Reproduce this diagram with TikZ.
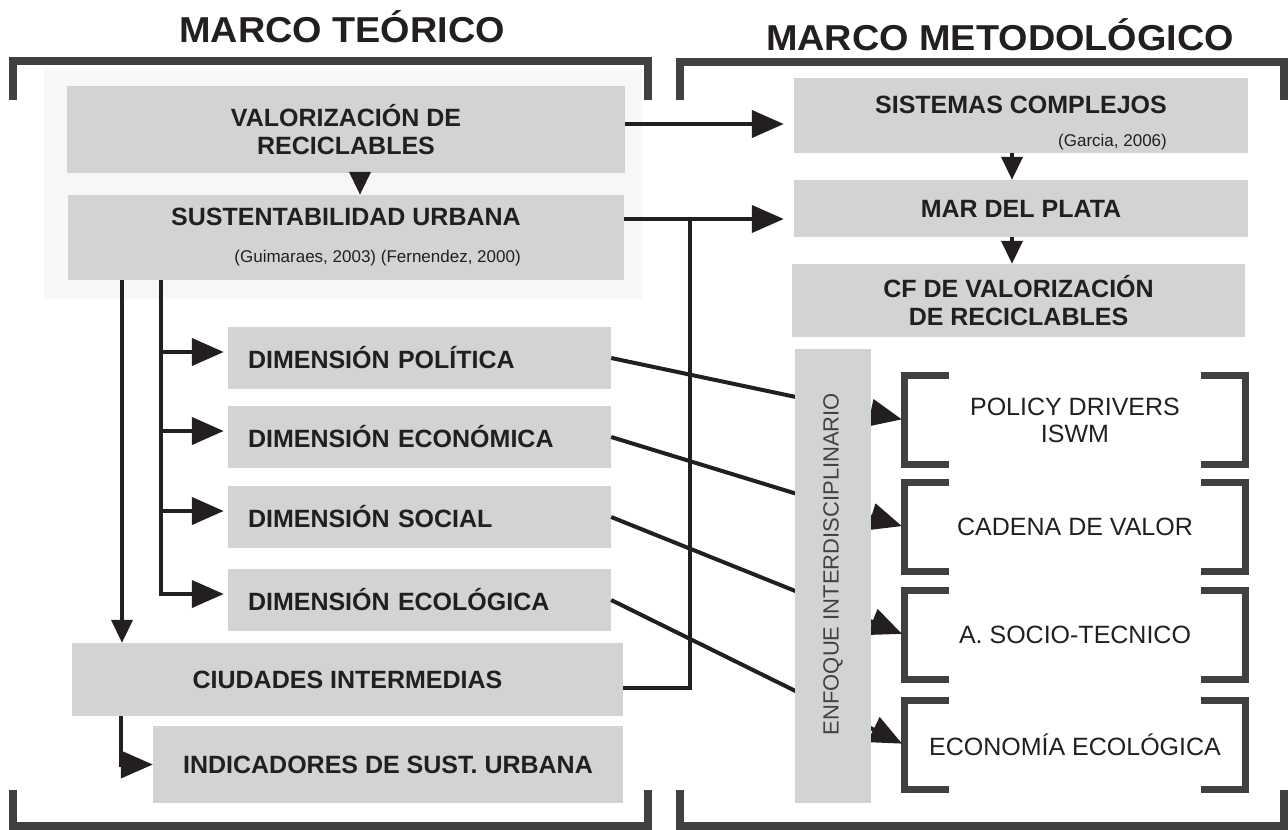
\documentclass[tikz,border=0pt]{standalone}
\usepackage{fontspec}
\setmainfont{Liberation Sans}
\newfontfamily\widefont[FakeStretch=1.05]{Liberation Sans}
\usetikzlibrary{arrows.meta,calc,positioning}
\definecolor{boxgray}{HTML}{D1D3D4}
\definecolor{fadegray}{HTML}{F7F7F7}
\definecolor{brkgray}{HTML}{404040}
\definecolor{ink}{HTML}{231F20}
\newcommand{\smallref}[1]{{\fontsize{17}{20}\selectfont\mdseries #1}}
\tikzset{
  gbox/.style={rectangle, fill=boxgray, inner sep=0pt, text=ink, align=center,
    font=\fontsize{25}{28}\selectfont\bfseries},
  dimbox/.style={gbox, minimum width=383, minimum height=62, text width=343,
    inner xsep=20, align=left},
  brk/.style={rectangle, minimum width=340, minimum height=88, inner sep=0pt,
    align=center, text=ink, font=\fontsize{25}{27}\selectfont},
  ttl/.style={text=ink, inner sep=0pt, font=\widefont\fontsize{36}{40}\selectfont\bfseries},
  brkline/.style={brkgray, line width=7pt, line join=miter},
  frame/.style={brkgray, line width=8pt, line join=miter},
  conn/.style={ink, line width=4pt},
  bigarr/.style={conn, -{Triangle[length=32pt,width=27pt]}},
  smallarr/.style={conn, -{Triangle[length=23pt,width=21pt]}}
}
\begin{document}
\begin{tikzpicture}[x=1pt, y=-1pt]
  \useasboundingbox (0,0) rectangle (1288,830);
  % faint panel
  \fill[fadegray] (44,68) rectangle (642,299);

  % outer frames
  \draw[frame] (13,100) -- (13,61) -- (648,61) -- (648,100);
  \draw[frame] (680,100) -- (680,62) -- (1284,62) -- (1284,100);
  \draw[frame] (13,790) -- (13,826) -- (648,826) -- (648,790);
  \draw[frame] (680,790) -- (680,826) -- (1284,826) -- (1284,790);

  \node[ttl, anchor=base] (mteo) at (342,42) {MARCO TEÓRICO};
  \node[ttl, anchor=base] (mmet) at (1000,50) {MARCO METODOLÓGICO};

  % marco teorico
  \node[gbox, minimum width=558, minimum height=87] (val) at (346,129.5) {VALORIZACIÓN DE\\RECICLABLES};
  \node[gbox, minimum width=556, minimum height=85, align=right] (sus) at (346,237.5)
    {SUSTENTABILIDAD URBANA\\[9pt]\smallref{(Guimaraes, 2003) (Fernendez, 2000)}};
  \foreach \n/\y/\t in {dpo/358/POLÍTICA, dec/437/ECONÓMICA, dso/517/SOCIAL, dlo/600/ECOLÓGICA}
    \node[dimbox] (\n) at (419.5,\y) {DIMENSIÓN \t};
  \node[gbox, minimum width=551, minimum height=73] (ciu) at (347.5,679.5) {CIUDADES INTERMEDIAS};
  \node[gbox, minimum width=470, minimum height=77] (ind) at (388,764.5) {INDICADORES DE SUST. URBANA};

  % marco metodologico
  \node[gbox, minimum width=454, minimum height=75, align=right] (sis) at (1021,115.5)
    {\rule{0pt}{33pt}SISTEMAS COMPLEJOS\\[5pt]\smallref{(Garcia, 2006)}};
  \node[gbox, minimum width=454, minimum height=57] (mdp) at (1021,208.5) {MAR DEL PLATA};
  \node[gbox, minimum width=453, minimum height=73] (cfv) at (1018.5,300.5) {CF DE VALORIZACIÓN\\DE RECICLABLES};

  \node[brk] (pol) at (1075,420) {POLICY DRIVERS\\ISWM};
  \node[brk] (cad) at (1075,527) {CADENA DE VALOR};
  \node[brk] (soc) at (1075,635) {A. SOCIO-TECNICO};
  \node[brk] (eco) at (1075,745) {ECONOMÍA ECOLÓGICA};
  \foreach \b in {pol,cad,soc,eco} {
    \draw[brkline] ([xshift=44]\b.north west) -- (\b.north west) -- (\b.south west) -- ([xshift=44]\b.south west);
    \draw[brkline] ([xshift=-44]\b.north east) -- (\b.north east) -- (\b.south east) -- ([xshift=-44]\b.south east);
  }

  % connectors
  \draw[smallarr] ([xshift=14]val.south) -- ([xshift=14]sus.north);
  \draw[bigarr, shorten >=10pt] (val.east |- 0,124) -- (sis.west |- 0,124);
  \draw[bigarr, shorten >=10pt] (sus.east |- 0,219) -- (mdp.west |- 0,219);
  \draw[conn] (ciu.east |- 0,688) -| (690,219);
  \draw[smallarr] ([xshift=-9]sis.south) -- ([xshift=-9]mdp.north);
  \draw[smallarr] ([xshift=-9]mdp.south) -- ([xshift=-9]mdp.south |- cfv.north);
  \draw[smallarr] (sus.south -| 122,0) -- (ciu.north -| 122,0);
  \draw[bigarr, shorten >=4pt] (sus.south -| 161,0) |- ([yshift=6]dlo.west);
  \foreach \n in {dpo,dec,dso}
    \draw[bigarr, shorten >=4pt] ([yshift=6]\n.west -| 161,0) -- ([yshift=6]\n.west);
  \draw[bigarr] (ciu.south -| 121,0) |- (ind.west);
  \foreach \a/\b in {dpo/pol, dec/cad, dso/soc, dlo/eco}
    \draw[bigarr, shorten >=3pt] (\a.east) -- (\b.west);

  % vertical bar on top of the crossing lines
  \node[gbox, minimum width=76, minimum height=454] (enf) at (833,576) {};
  \node[rotate=90, inner sep=0pt, text=ink!85, font=\fontsize{22}{24}\selectfont] (enft) at (833,564) {ENFOQUE INTERDISCIPLINARIO};
\end{tikzpicture}
\end{document}
